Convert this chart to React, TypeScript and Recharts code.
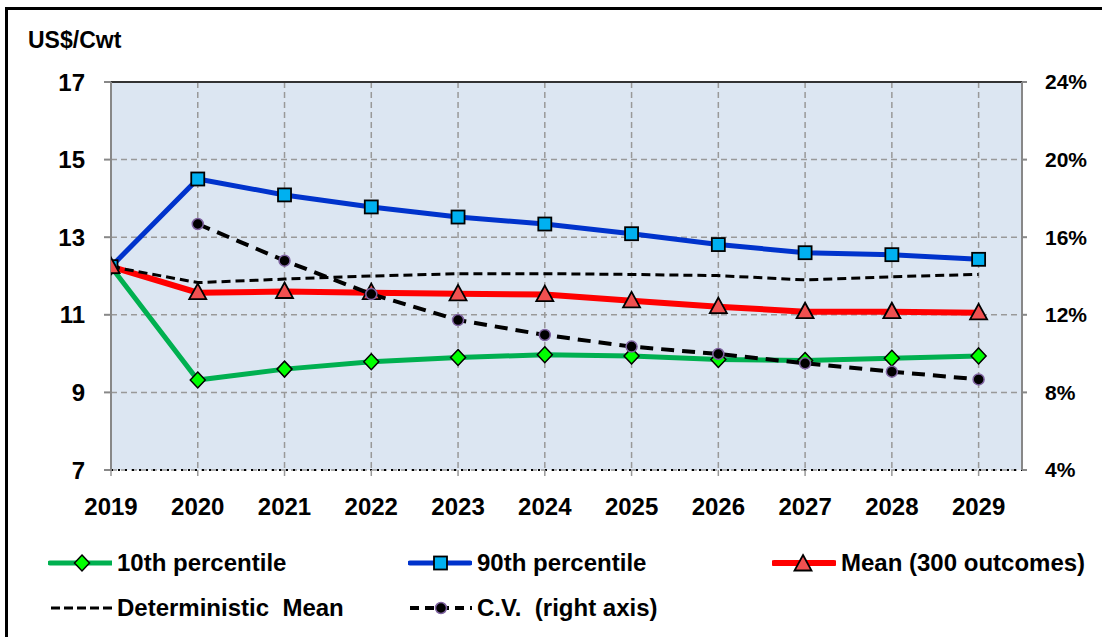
import React from "react";
import { LineChart, Line, XAxis, YAxis, CartesianGrid, ReferenceLine } from "recharts";

const years = [2019, 2020, 2021, 2022, 2023, 2024, 2025, 2026, 2027, 2028, 2029];
const p10 = [12.24, 9.32, 9.6, 9.79, 9.9, 9.97, 9.94, 9.85, 9.82, 9.88, 9.94];
const p90 = [12.24, 14.5, 14.09, 13.78, 13.52, 13.34, 13.09, 12.81, 12.6, 12.55, 12.43];
const meanOut = [12.24, 11.57, 11.6, 11.57, 11.54, 11.52, 11.36, 11.21, 11.08, 11.08, 11.05];
const detMean = [12.24, 11.83, 11.92, 12.0, 12.06, 12.06, 12.04, 12.01, 11.9, 11.98, 12.04];
const cv = [null, 16.68, 14.79, 13.07, 11.73, 10.96, 10.36, 9.98, 9.5, 9.07, 8.67];

const leftTicks = [7, 9, 11, 13, 15, 17];
const rightTicks = [4, 8, 12, 16, 20, 24];

const data = years.map((year, i) => ({
  year,
  p10: p10[i],
  p90: p90[i],
  mean: meanOut[i],
  det: detMean[i],
  cv: cv[i],
}));

const FONT = "'Liberation Sans', Arial, sans-serif";
const tickStyle = { fontSize: 24, fontWeight: 700, fill: "#000", fontFamily: FONT };

const diamondPath = (cx: number, cy: number) =>
  `M${cx},${cy - 8}L${cx + 7.5},${cy}L${cx},${cy + 8}L${cx - 7.5},${cy}Z`;
const trianglePath = (cx: number, cy: number) =>
  `M${cx},${cy - 9}L${cx + 8.5},${cy + 6.5}L${cx - 8.5},${cy + 6.5}Z`;

function DiamondDot(p: any) {
  const { cx, cy, index } = p;
  if (cx == null || cy == null) return <g key={index} />;
  return <path key={index} d={diamondPath(cx, cy)} fill="#00FF00" stroke="#000" strokeWidth={1.5} />;
}

function SquareDot(p: any) {
  const { cx, cy, index } = p;
  if (cx == null || cy == null) return <g key={index} />;
  return <rect key={index} x={cx - 6.5} y={cy - 6.5} width={13} height={13} fill="#00B0F0" stroke="#000" strokeWidth={1.8} />;
}

function TriangleDot(p: any) {
  const { cx, cy, index } = p;
  if (cx == null || cy == null) return <g key={index} />;
  return <path key={index} d={trianglePath(cx, cy)} fill="#F05050" stroke="#000" strokeWidth={1.8} />;
}

function CvDot(p: any) {
  const { cx, cy, index, value } = p;
  if (cx == null || cy == null || value == null) return <g key={index} />;
  return <circle key={index} cx={cx} cy={cy} r={5.5} fill="#000" stroke="#8064A2" strokeWidth={1.5} />;
}

function LegendItem({ x, y, label, children }: { x: number; y: number; label: string; children: React.ReactNode }) {
  return (
    <div style={{ position: "absolute", left: x, top: y - 15, height: 30, display: "flex", alignItems: "center" }}>
      <svg width={64} height={30} style={{ display: "block" }}>
        {children}
      </svg>
      <span style={{ marginLeft: 5, fontFamily: FONT, fontWeight: 700, fontSize: 24, color: "#000", whiteSpace: "pre" }}>
        {label}
      </span>
    </div>
  );
}

export default function App() {
  return (
    <div style={{ position: "absolute", left: 0, top: 0, width: 1102, height: 637, background: "#fff", overflow: "hidden" }}>
      <div style={{ position: "absolute", left: 5, top: 7, width: 1110, height: 650, borderLeft: "3px solid #000", borderTop: "3px solid #000" }} />
      <div style={{ position: "absolute", left: 28, top: 27, fontFamily: FONT, fontWeight: 700, fontSize: 23 }}>US$/Cwt</div>

      <div style={{ position: "absolute", left: 0, top: 0 }}>
        <LineChart width={1102} height={530} data={data} margin={{ top: 82, right: 20, bottom: 0, left: 51 }}>
          <CartesianGrid
            yAxisId="left"
            fill="#DCE6F2"
            stroke="#999"
            strokeWidth={1.5}
            strokeDasharray="6 4"
          />
          <XAxis
            dataKey="year"
            type="number"
            domain={[2019, 2029.5]}
            ticks={years}
            allowDataOverflow
            height={60}
            tick={tickStyle}
            tickSize={6}
            tickMargin={22}
            tickLine={{ stroke: "#999", strokeWidth: 1.5 }}
            axisLine={{ stroke: "#000", strokeWidth: 2, strokeDasharray: "2 5" }}
          />
          <YAxis
            yAxisId="left"
            domain={[7, 17]}
            ticks={leftTicks}
            width={60}
            tick={tickStyle}
            tickSize={7}
            tickMargin={19}
            tickLine={{ stroke: "#888", strokeWidth: 2 }}
            axisLine={{ stroke: "#888", strokeWidth: 2 }}
          />
          <YAxis
            yAxisId="right"
            orientation="right"
            domain={[4, 24]}
            ticks={rightTicks}
            width={60}
            tick={{ ...tickStyle, fontSize: 21 }}
            tickFormatter={(v) => `${v}%`}
            tickSize={5}
            tickMargin={18}
            tickLine={{ stroke: "#888", strokeWidth: 2 }}
            axisLine={{ stroke: "#888", strokeWidth: 2 }}
          />
          <ReferenceLine yAxisId="left" y={17} stroke="#333" strokeWidth={2} />
          <Line yAxisId="left" type="linear" dataKey="p10" stroke="#00B050" strokeWidth={5} dot={DiamondDot} activeDot={false} isAnimationActive={false} />
          <Line yAxisId="left" type="linear" dataKey="p90" stroke="#0033CC" strokeWidth={5} dot={SquareDot} activeDot={false} isAnimationActive={false} />
          <Line yAxisId="left" type="linear" dataKey="mean" stroke="#FF0000" strokeWidth={6} dot={TriangleDot} activeDot={false} isAnimationActive={false} />
          <Line yAxisId="left" type="linear" dataKey="det" stroke="#000" strokeWidth={3} strokeDasharray="9 5" dot={false} activeDot={false} isAnimationActive={false} />
          <Line yAxisId="right" type="linear" dataKey="cv" stroke="#000" strokeWidth={4} strokeDasharray="13 8" dot={CvDot} activeDot={false} connectNulls={false} isAnimationActive={false} />
        </LineChart>
      </div>

      <LegendItem x={48} y={563} label="10th percentile">
        <line x1={2} y1={15} x2={64} y2={15} stroke="#00B050" strokeWidth={5} strokeLinecap="round" />
        <path d={diamondPath(34, 15)} fill="#00FF00" stroke="#000" strokeWidth={1.5} />
      </LegendItem>
      <LegendItem x={408} y={563} label="90th percentile">
        <line x1={2} y1={15} x2={62} y2={15} stroke="#0033CC" strokeWidth={5} strokeLinecap="round" />
        <rect x={26} y={8.5} width={13} height={13} fill="#00B0F0" stroke="#000" strokeWidth={1.8} />
      </LegendItem>
      <LegendItem x={772} y={563} label="Mean (300 outcomes)">
        <line x1={2} y1={15} x2={62} y2={15} stroke="#FF0000" strokeWidth={6} strokeLinecap="round" />
        <path d={trianglePath(31, 16)} fill="#F05050" stroke="#000" strokeWidth={1.8} />
      </LegendItem>
      <LegendItem x={48} y={608} label="Deterministic  Mean">
        <line x1={3} y1={15} x2={64} y2={15} stroke="#000" strokeWidth={3} strokeDasharray="9 4" />
      </LegendItem>
      <LegendItem x={408} y={608} label="C.V.  (right axis)">
        <line x1={2} y1={15} x2={64} y2={15} stroke="#000" strokeWidth={4} strokeDasharray="9 6" />
        <circle cx={33} cy={15} r={5.5} fill="#000" stroke="#8064A2" strokeWidth={1.5} />
      </LegendItem>
    </div>
  );
}
